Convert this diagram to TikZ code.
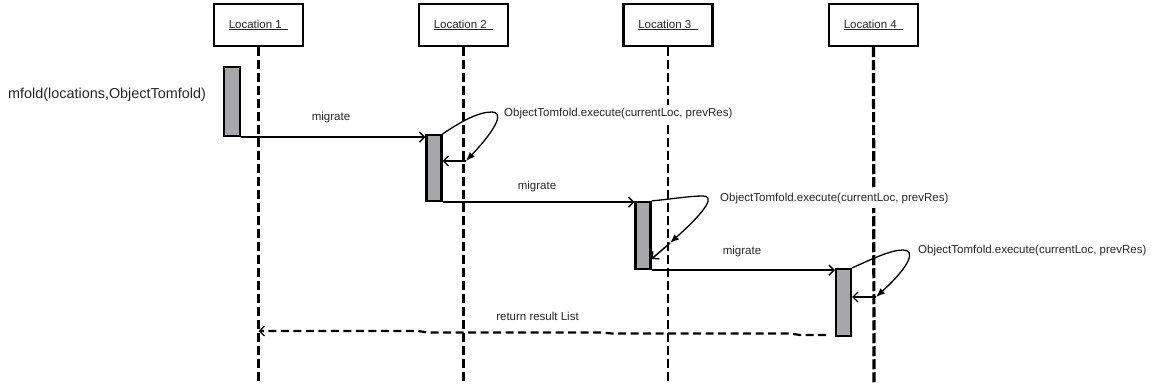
\documentclass[tikz,border=0pt]{standalone}
\usepackage{fontspec}
\setmainfont{Liberation Sans}
\usetikzlibrary{arrows.meta,calc}
\definecolor{barfill}{HTML}{A7A7A9}
\definecolor{txt}{HTML}{262626}
\tikzset{
  locbox/.style={draw=black, line width=2.5pt, fill=white, minimum width=89pt, minimum height=42pt, inner sep=0pt, font=\fontsize{11.5}{13}\selectfont, text=txt},
  lifeline/.style={draw=black, line width=2.6pt, dash pattern=on 9pt off 4pt},
  actbar/.style={draw=black, line width=2.2pt, fill=barfill, inner sep=0pt, minimum width=15pt},
  msg/.style={draw=black, line width=1.5pt, -{Straight Barb[length=5pt,width=10pt,line width=1.3pt]}},
  selfcall/.style={draw=black, line width=1.3pt, -{Latex[length=9pt,width=7pt]}},
  selfback/.style={draw=black, line width=1.5pt, -{Straight Barb[length=5pt,width=10pt,line width=1.3pt]}},
  retmsg/.style={draw=black, line width=2.2pt, dash pattern=on 8pt off 4.5pt, -{Straight Barb[length=5pt,width=10pt,line width=1.3pt]}},
  lbl/.style={inner sep=0pt, font=\fontsize{11.5}{13}\selectfont, text=txt},
  execlbl/.style={lbl, anchor=west, fill=white, inner xsep=0pt, inner ysep=4pt},
}
\begin{document}
\begin{tikzpicture}[x=1pt,y=-1pt]
\useasboundingbox (0,0) rectangle (1159,387);

% lifelines
\coordinate (L1b) at (258.5,383);
\coordinate (L2b) at (463.5,383);
\coordinate (L3b) at (668,383);
\coordinate (L4b) at (874,383);

\node[locbox] (L1) at (258.5,25) {\underline{Location 1\ \ }};
\node[locbox] (L2) at (463.5,25) {\underline{Location 2\ \ }};
\node[locbox] (L3) at (668,25) {\underline{Location 3\ \ }};
\node[locbox] (L4) at (873.5,25) {\underline{Location 4\ \ }};

\draw[lifeline] (L1.south) -- (L1b);
\draw[lifeline] (L2.south) -- (L2b);
\draw[lifeline] (L3.south) -- (L3b);
\draw[lifeline, line width=3.2pt, dash pattern=on 10pt off 3pt] (L4.south) -- (L4b);

% activation bars
\node[actbar, minimum width=16pt, minimum height=69pt] (B1) at (232,101.5) {};
\node[actbar, minimum height=66pt] (B2) at (434,168) {};
\node[actbar, minimum height=67pt] (B3) at (643,235.5) {};
\node[actbar, minimum height=67pt] (B4) at (843.5,302.5) {};

% labels
\node[lbl, anchor=west, font=\fontsize{14.4}{16}\selectfont] (mf) at (8,95) {mfold(locations,ObjectTomfold)};
\node[lbl] (m1) at (331,118) {migrate};
\node[lbl] (m2) at (537,187) {migrate};
\node[lbl] (m3) at (742,252) {migrate};
\node[execlbl] (x2) at (504,114) {ObjectTomfold.execute(currentLoc, prevRes)};
\node[execlbl] (x3) at (720,199) {ObjectTomfold.execute(currentLoc, prevRes)};
\node[execlbl] (x4) at (918,251) {ObjectTomfold.execute(currentLoc, prevRes)};
\node[lbl] (rl) at (537.5,316.5) {return result List};

% migrate messages
\draw[msg] (B1.south east) -- (B1.south east -| B2.west);
\draw[msg] (B2.south east) -- (B2.south east -| B3.west);
\draw[msg, line width=2.2pt] (B3.south east) -- (B3.south east -| B4.west);

% self calls
\coordinate (S2) at (466,161);
\coordinate (S3) at (670,243);
\coordinate (S4) at (876,297);
\draw[selfcall] (B2.north east) .. controls (462,121) and (478,112) .. (492,112) .. controls (503,112) and (499,126) .. (S2);
\draw[selfback] (S2) -- (S2 -| B2.east);
\draw[selfcall] (B3.north east) .. controls (672,199) and (690,196) .. (703,196) .. controls (714,196) and (709,208) .. (S3);
\draw[selfback] (S3) -- (B3.east |- 0,259);
\draw[selfcall] (B4.north east) .. controls (870,260) and (890,250) .. (903,250) .. controls (915,250) and (912,264) .. (S4);
\draw[selfback] (S4) -- (S4 -| B4.east);

% return
\coordinate (R0) at (826,335);
\coordinate (R1) at (258.5,331);
\draw[retmsg] (R0) -- (800,335) -- (790,333.5) -- (612,333.5) -- (602,332.5) -- (428,332.5) -- (418,331) -- (R1);
\end{tikzpicture}
\end{document}
